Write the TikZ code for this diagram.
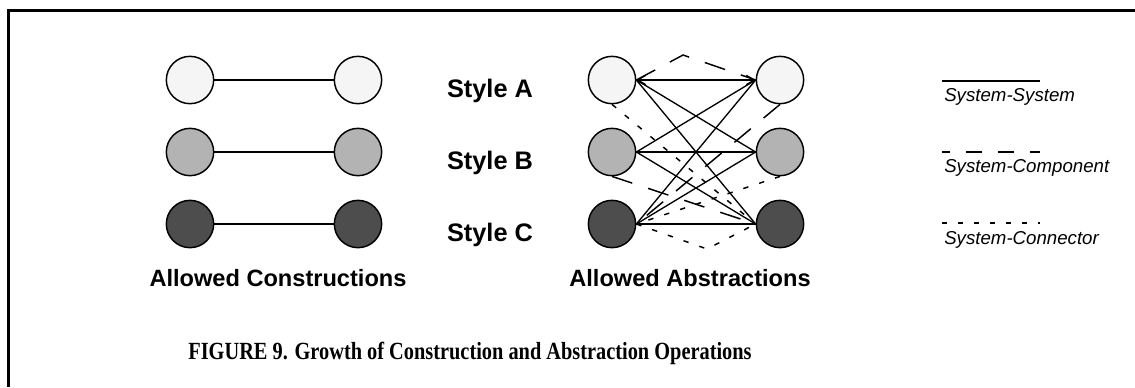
\documentclass[tikz,border=0pt]{standalone}
\usepackage{fontspec}
\setmainfont{Liberation Serif}
\setsansfont{Liberation Sans}
\usetikzlibrary{matrix,arrows.meta}

\definecolor{styleA}{HTML}{F5F5F5}
\definecolor{styleB}{HTML}{B3B3B3}
\definecolor{styleC}{HTML}{4D4D4D}

\begin{document}
\begin{tikzpicture}[x=0.75pt,y=-0.75pt,
  ball/.style={circle,draw,line width=1.1pt,minimum size=35.5pt,inner sep=0pt},
  balls/.style={matrix of nodes,nodes in empty cells,row sep=17.4pt,column sep=89.4pt,
    nodes={ball},
    row 1/.style={nodes={fill=styleA}},
    row 2/.style={nodes={fill=styleB}},
    row 3/.style={nodes={fill=styleC}}},
  stylelbl/.style={font=\sffamily\bfseries\fontsize{19}{22}\selectfont,anchor=base},
  setlbl/.style={font=\sffamily\bfseries\fontsize{17.7}{21}\selectfont,anchor=base},
  keylbl/.style={font=\sffamily\itshape\fontsize{14}{16}\selectfont,anchor=base west,inner sep=0pt},
  syssys/.style={line width=1pt,>={Straight Barb[length=6pt,width=7pt]}},
  syscomp/.style={line width=1.1pt,dash pattern=on 16pt off 12.5pt},
  sysconn/.style={line width=1.1pt,dash pattern=on 4pt off 8.5pt}]
\useasboundingbox (0,0) rectangle (1135,387);
\draw[line width=2pt] (8.7,387) |- (1135,10.5);

\matrix (cons) [balls] at (274,152) { & \\ & \\ & \\ };
\matrix (abs) [balls] at (696,152) { & \\ & \\ & \\ };

\path[line width=0.8pt]
(cons-1-1) edge (cons-1-2)
(cons-2-1) edge (cons-2-2)
(cons-3-1) edge (cons-3-2);

\path[syssys]
(abs-1-1.east) edge[<->] (abs-1-2.west) edge (abs-2-2.west) edge (abs-3-2.west)
(abs-2-1.east) edge (abs-1-2.west) edge (abs-2-2.west) edge (abs-3-2.west)
(abs-3-1.east) edge (abs-1-2.west) edge (abs-2-2.west) edge (abs-3-2.west);

\coordinate (peak) at (683,55);
\coordinate (dip) at (707,249);
\draw[syscomp] (abs-1-1.east) -- (peak) -- (abs-1-2.west);
\path[syscomp]
(abs-1-2.south) edge (abs-3-1.east)
(abs-2-1.south) edge (abs-3-2.west);
\draw[sysconn] (abs-3-1.east) -- (dip) -- (abs-3-2.west);
\path[sysconn]
(abs-1-1.south) edge (abs-3-2.west)
(abs-2-2.south) edge (abs-3-1.east);

\node[stylelbl] (stya) at (490,97) {Style A};
\node[stylelbl] (styb) at (490,169) {Style B};
\node[stylelbl] (styc) at (490,241) {Style C};

\node[setlbl] (allcons) at (278,286) {Allowed Constructions};
\node[setlbl] (allabs) at (690,286) {Allowed Abstractions};

\draw[syssys] (942,81) -- (1040,81);
\draw[line width=1pt,dash pattern=on 12pt off 12pt,dash phase=6pt] (942,152) -- (1040,152);
\draw[line width=1pt,dash pattern=on 3.75pt off 8.25pt] (942,223) -- (1040,223);
\node[keylbl] (keyss) at (944,101) {System-System};
\node[keylbl] (keysc) at (944,172) {System-Component};
\node[keylbl] (keycn) at (944,244) {System-Connector};

\node[font=\rmfamily\bfseries\fontsize{18.5}{21}\selectfont,anchor=base] (caption) at (470,359)
{\scalebox{0.825}[1]{FIGURE 9. Growth of Construction and Abstraction Operations}};
\end{tikzpicture}
\end{document}
